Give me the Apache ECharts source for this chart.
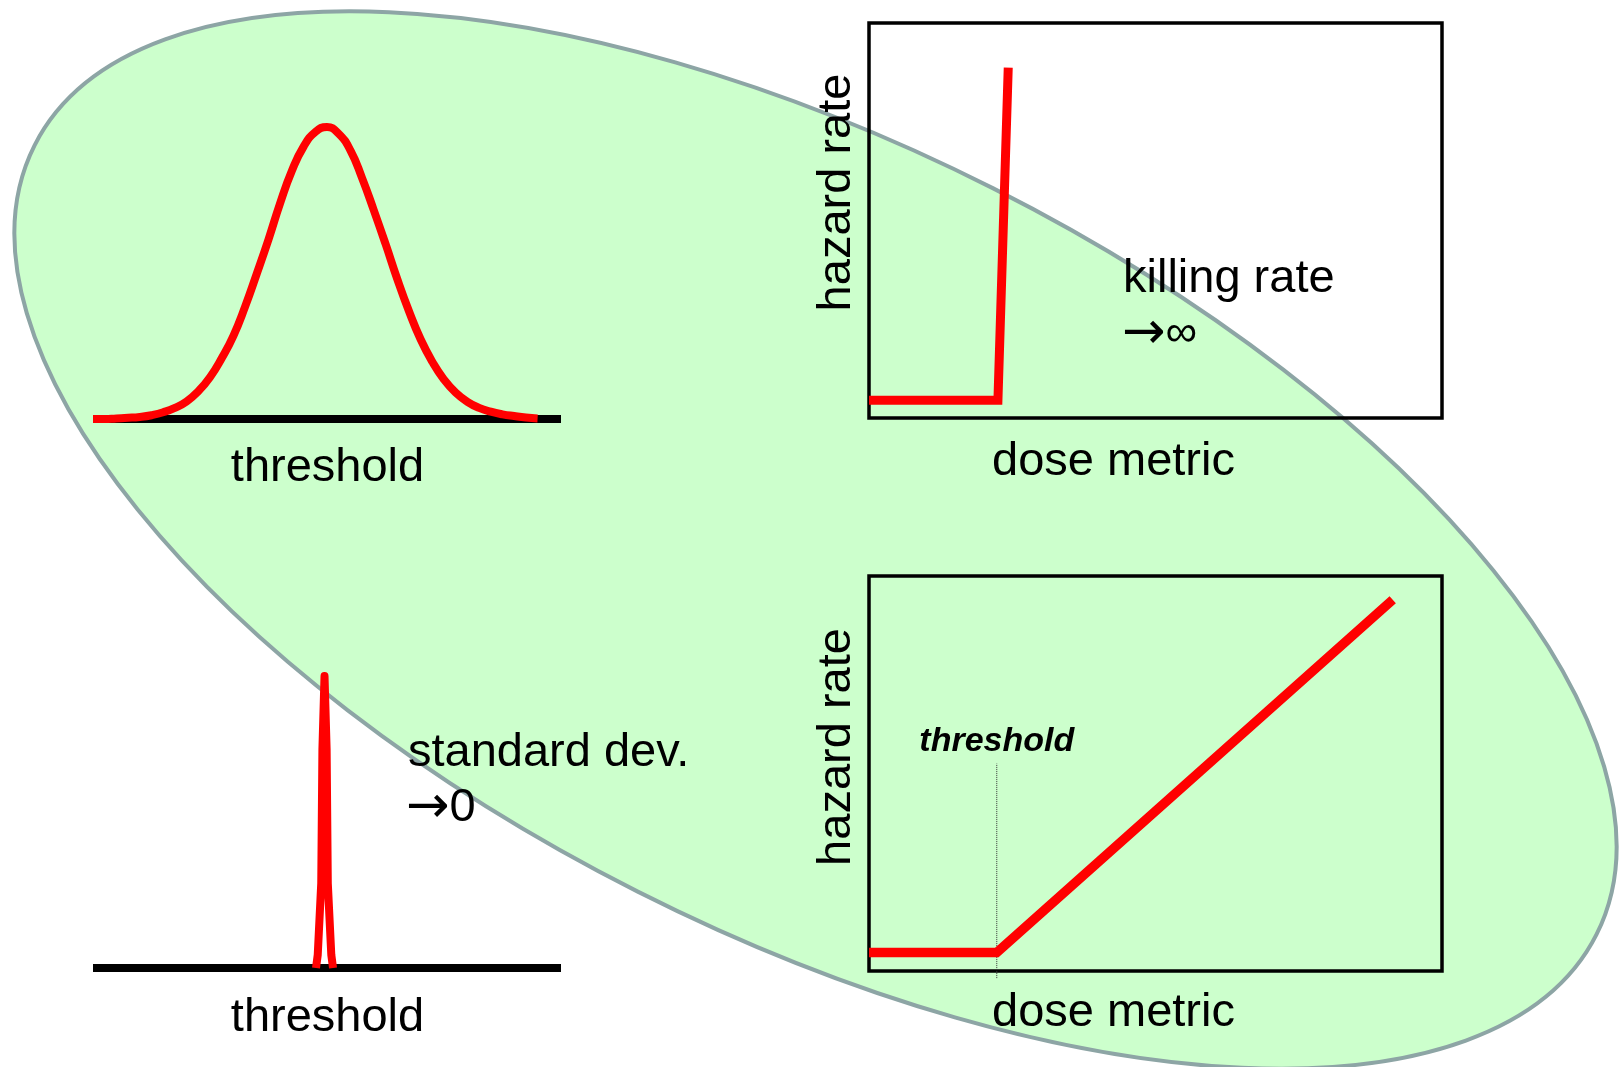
<!DOCTYPE html>
<html>
<head>
<meta charset="utf-8">
<title>threshold vs hazard rate</title>
<script src="https://cdn.jsdelivr.net/npm/echarts@6.0.0/dist/echarts.min.js"></script>
<style>
html, body { margin: 0; padding: 0; background: #fff; }
#main { width: 1619px; height: 1067px; }
</style>
</head>
<body>
<div id="main"></div>
<script>
// top left: distribution of thresholds (wide)
const gaussX = [0, 2.5, 5, 7.5, 10, 12.5, 15, 17.5, 20, 22.5, 25, 27.5, 30, 32.5, 35, 37.5, 40, 42.5, 45, 47.5,
  50, 52.5, 55, 57.5, 60, 62.5, 65, 67.5, 70, 72.5, 75, 77.5, 80, 82.5, 85, 87.5, 90, 92.5, 95]
const gaussY = [0, 0, 0.2, 0.4, 0.7, 1.3, 2.3, 3.8, 6, 9.5, 14.3, 20.8, 28.5, 38.5, 49.8, 61.5, 74, 85, 93.3, 98.3,
  100, 97.7, 92, 82.5, 71.5, 60, 48, 37, 27.3, 19.6, 13.5, 9, 5.9, 3.8, 2.5, 1.6, 1, 0.5, 0.2]

// bottom left: standard dev. -> 0
const spikeX = [47.65, 48.02, 48.77, 49.02, 49.47, 49.92, 50.17, 50.92, 51.29]
const spikeY = [0, 4.5, 29, 75, 100, 75, 29, 4.5, 0]

// top right: killing rate -> infinity
const stepX = [0, 22.5, 24.3]
const stepY = [4.5, 4.5, 88.7]

// bottom right: hazard rate linear above threshold
const linX = [0, 22.3, 91.4]
const linY = [4.7, 4.7, 94.0]
const thresholdX = 22.3
const thresholdLineY = [-1.8, 52.5]

const fontFamily = '"Liberation Sans", Arial, sans-serif'

function pairs (xs, ys) {
  return xs.map((x, i) => [x, ys[i]])
}

const myChart = echarts.init(document.getElementById('main'))

const grids = [
  { left: 93, top: 127, width: 468, height: 292, show: false },
  { left: 93, top: 676, width: 468, height: 292, show: false },
  { left: 869, top: 23, width: 573, height: 395, show: true, borderColor: '#000', borderWidth: 3.5, backgroundColor: 'transparent' },
  { left: 869, top: 576, width: 573, height: 395, show: true, borderColor: '#000', borderWidth: 3.5, backgroundColor: 'transparent' }
]

const xAxes = grids.map((g, i) => ({
  type: 'value',
  gridIndex: i,
  min: 0,
  max: 100,
  axisLine: { show: i < 2, onZero: false, lineStyle: { color: '#000', width: 8, cap: 'butt' } },
  axisTick: { show: false },
  axisLabel: { show: false },
  splitLine: { show: false }
}))

const yAxes = grids.map((g, i) => ({
  type: 'value',
  gridIndex: i,
  min: 0,
  max: 100,
  show: false
}))

function redLine (idx, data, width, smooth, join) {
  return {
    type: 'line',
    xAxisIndex: idx,
    yAxisIndex: idx,
    data: data,
    smooth: smooth,
    symbol: 'none',
    silent: true,
    z: 3,
    lineStyle: { color: '#ff0000', width: width, cap: 'butt', join: join || 'miter' }
  }
}

// dotted threshold marker, runs a little below the box
const thresholdData = [
  [thresholdX, thresholdLineY[0]],
  {
    value: [thresholdX, thresholdLineY[1]],
    label: {
      show: true,
      position: 'top',
      distance: 5,
      formatter: 'threshold',
      color: '#000',
      fontFamily: fontFamily,
      fontStyle: 'italic',
      fontWeight: 'bold',
      fontSize: 34
    }
  }
]

const series = [
  redLine(0, pairs(gaussX, gaussY), 8, 0.5, 'round'),
  redLine(1, pairs(spikeX, spikeY), 8, false, 'round'),
  redLine(2, pairs(stepX, stepY), 9, false),
  redLine(3, pairs(linX, linY), 9.5, false),
  {
    type: 'line',
    xAxisIndex: 3,
    yAxisIndex: 3,
    clip: false,
    silent: true,
    symbol: 'circle',
    symbolSize: 0,
    showSymbol: true,
    z: 2,
    lineStyle: { type: 'dotted', color: '#333', width: 1 },
    data: thresholdData
  }
]

function label (text, x, y, opts) {
  opts = opts || {}
  return {
    type: 'text',
    x: x,
    y: y,
    z: 10,
    silent: true,
    rotation: opts.rotation || 0,
    style: {
      text: text,
      fill: '#000',
      fontFamily: fontFamily,
      fontSize: 47,
      align: opts.align || 'center',
      verticalAlign: 'middle',
      rich: opts.rich
    }
  }
}

const arrowRich = {
  arr: { fontFamily: '"DejaVu Sans"', fontSize: 52, color: '#000' },
  inf: { fontFamily: fontFamily, fontSize: 44, color: '#000' },
  num: { fontFamily: fontFamily, fontSize: 47, color: '#000' }
}

const option = {
  backgroundColor: '#fff',
  animation: false,
  grid: grids,
  xAxis: xAxes,
  yAxis: yAxes,
  series: series,
  graphic: [
    {
      type: 'ellipse',
      x: 815.5,
      y: 540,
      rotation: -0.468,
      z: -1,
      silent: true,
      shape: { cx: 0, cy: 0, rx: 875, ry: 394 },
      style: { fill: '#ccffcc', stroke: '#8da5a5', lineWidth: 4 }
    },
    label('threshold', 327.5, 468),
    label('threshold', 327.5, 1018),
    label('dose metric', 1113.5, 462),
    label('dose metric', 1113.5, 1013),
    label('hazard rate', 837, 192.5, { rotation: Math.PI / 2 }),
    label('hazard rate', 837, 747, { rotation: Math.PI / 2 }),
    label('killing rate', 1123, 279, { align: 'left' }),
    label('{arr|\u2192}{inf|\u221e}', 1122, 334, { align: 'left', rich: arrowRich }),
    label('standard dev.', 408, 753, { align: 'left' }),
    label('{arr|\u2192}{num|0}', 406, 808, { align: 'left', rich: arrowRich })
  ]
}

myChart.setOption(option)
window.onresize = () => { myChart.resize() }
</script>
</body>
</html>
